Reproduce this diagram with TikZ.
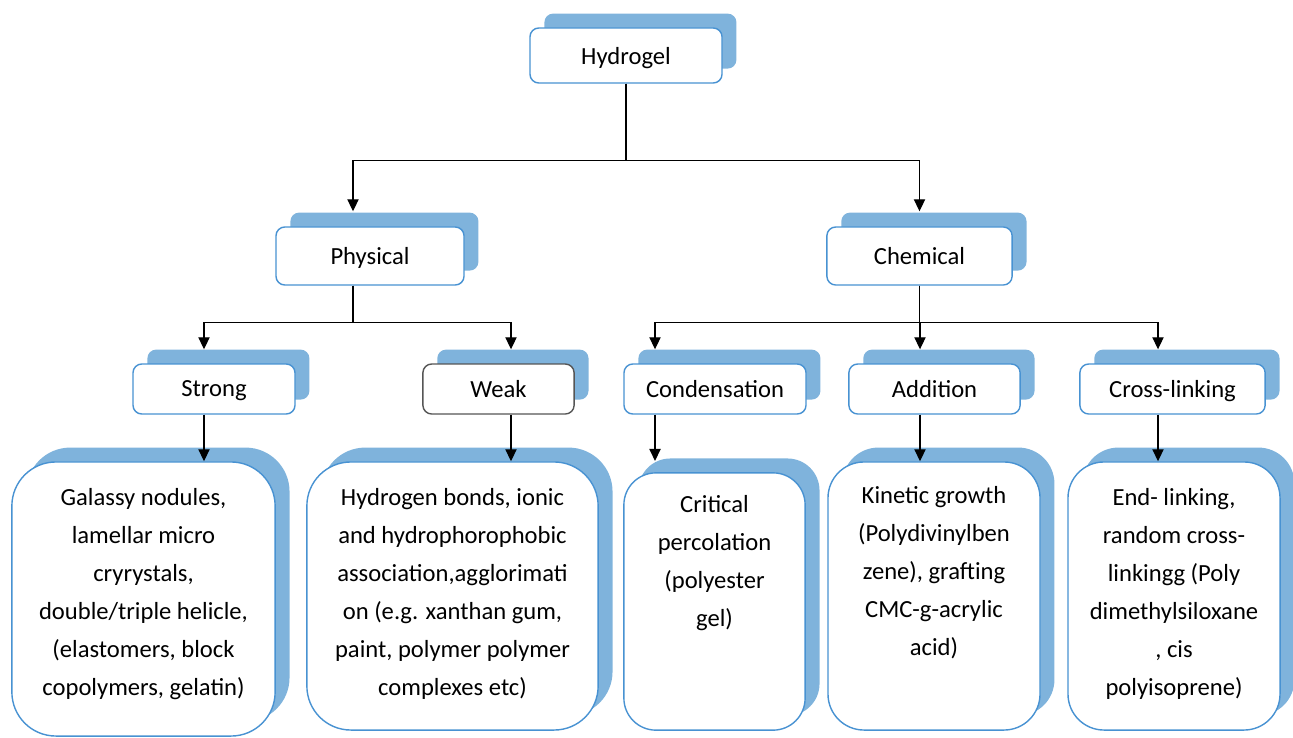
\documentclass[tikz,border=0pt]{standalone}
\usepackage{fontspec}
\setmainfont{Carlito}
\usetikzlibrary{positioning, arrows.meta, shadows}
\definecolor{boxblue}{RGB}{72,146,210}
\definecolor{shadeblue}{RGB}{127,179,220}
\definecolor{weakgray}{RGB}{85,85,85}

\begin{document}
\begin{tikzpicture}[x=0.025cm, y=-0.025cm,
            every node/.style={font=\fontsize{17.5}{27}\selectfont},
            block/.style={rectangle, draw=boxblue, line width=1pt, fill=white, rounded corners=0.22cm, minimum height=1.25cm, text depth=0pt, copy shadow={shadow xshift=0.36cm, shadow yshift=0.36cm, fill=shadeblue, draw=none}},
            detail/.style={block, rounded corners=1.1cm, minimum height=6.7cm},
            detailtext/.style={align=center, inner sep=0pt},
            arrow/.style={-{Triangle[length=0.3cm, width=0.28cm]}, line width=0.9pt}]

        \useasboundingbox (0,0) rectangle (1293,737);

        % boxes
        \node[block, minimum width=4.8cm, minimum height=1.375cm] (hydrogel) at (626,55.5) {Hydrogel};
        \node[block, minimum width=4.7cm, minimum height=1.45cm] (physical) at (370,256) {Physical};
        \node[block, minimum width=4.63cm, minimum height=1.45cm] (chemical) at (919.5,256) {Chemical};
        \node[block, minimum width=4.05cm] (strong) at (214,389) {Strong};
        \node[block, draw=weakgray, minimum width=3.78cm] (weak) at (498.5,389) {Weak};
        \node[block, minimum width=4.55cm] (condensation) at (715,389) {Condensation};
        \node[block, minimum width=4.28cm] (addition) at (934.5,389) {Addition};
        \node[block, minimum width=4.63cm] (crosslinking) at (1172.5,389) {Cross-linking};

        \node[detail, minimum width=6.58cm, minimum height=6.85cm] (glassy) at (143.5,599) {};
        \node[detail, minimum width=7.28cm] (hbonds) at (452.5,596) {};
        \node[detail, rounded corners=0.8cm, minimum width=4.53cm, minimum height=6.43cm] (percolation) at (714.5,601.5) {};
        \node[detail, rounded corners=0.9cm, minimum width=5.3cm] (kinetic) at (934,596) {};
        \node[detail, rounded corners=0.9cm, minimum width=5.3cm] (endlinking) at (1174,596) {};

        \node[detailtext, below=0.68cm of glassy.north] (glassytext) {Galassy nodules,\\lamellar micro\\cryrystals,\\double/triple helicle,\\(elastomers, block\\copolymers, gelatin)};
        \node[detailtext, below=0.68cm of hbonds.north] (hbondstext) {Hydrogen bonds, ionic\\and hydrophorophobic\\association,agglorimati\\on (e.g. xanthan gum,\\paint, polymer polymer\\complexes etc)};
        \node[detailtext, below=0.58cm of percolation.north] (percolationtext) {Critical\\percolation\\(polyester\\gel)};
        \node[detailtext, below=0.63cm of kinetic.north] (kinetictext) {Kinetic growth\\(Polydivinylben\\zene), grafting\\CMC-g-acrylic\\acid)};
        \node[detailtext, below=0.68cm of endlinking.north] (endlinkingtext) {End- linking,\\random cross-\\linkingg (Poly\\dimethylsiloxane\\, cis\\polyisoprene)};

        % arrow ends
        \coordinate (physical in) at ([shift={(-17,-15)}]physical.north);
        \coordinate (chemical in) at ([shift={(0,-15)}]chemical.north);
        \coordinate (strong in) at ([shift={(-10,-14)}]strong.north);
        \coordinate (weak in) at ([shift={(12.5,-14)}]weak.north);
        \coordinate (condensation in) at ([shift={(-60,-14)}]condensation.north);
        \coordinate (addition in) at ([shift={(-14.5,-14)}]addition.north);
        \coordinate (crosslinking in) at ([shift={(-14.5,-14)}]crosslinking.north);

        \draw[arrow] (hydrogel.south) -- ++(0,77) -| (physical in);
        \draw[arrow] (hydrogel.south) -- ++(0,77) -| (chemical in);
        \draw[arrow] (physical in |- physical.south) -- ++(0,37) -| (strong in);
        \draw[arrow] (physical in |- physical.south) -- ++(0,37) -| (weak in);
        \draw[arrow] (chemical.south) -- ++(0,37) -| (condensation in);
        \draw[arrow] (chemical.south) -- ++(0,37) -| (addition in);
        \draw[arrow] (chemical.south) -- ++(0,37) -| (crosslinking in);

        \draw[arrow] (strong in |- strong.south) -- (strong in |- glassy.north);
        \draw[arrow] (weak in |- weak.south) -- (weak in |- hbonds.north);
        \draw[arrow] (condensation in |- condensation.south) -- ([yshift=0.28cm]condensation in |- percolation.north);
        \draw[arrow] (addition in |- addition.south) -- (addition in |- kinetic.north);
        \draw[arrow] (crosslinking in |- crosslinking.south) -- (crosslinking in |- endlinking.north);
    \end{tikzpicture}
\end{document}
